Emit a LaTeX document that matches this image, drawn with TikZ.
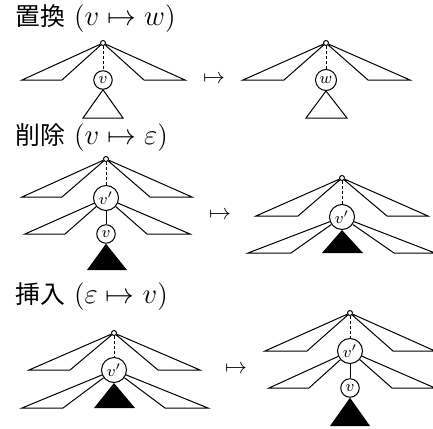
\documentclass[tikz,border=0pt]{standalone}
\usepackage{fontspec}
\newfontfamily\cjk[Scale=0.9]{Noto Sans CJK JP}
\usetikzlibrary{positioning}

\begin{document}
\begin{tikzpicture}[
  x=0.5pt, y=-0.5pt,
  line width=0.5pt,
% 1. Tiny open circle at the top of each context
  root/.style={
    draw,
    circle,
    fill=white,
    inner sep=0pt,
    minimum size=2.5pt
  },
% 2. Labelled vertices
  vtx/.style={
    draw,
    circle,
    fill=white,
    inner sep=0pt,
    minimum size=9.25pt,
    font=\footnotesize
  },
  vtxbig/.style={
    vtx,
    minimum size=12.5pt
  },
% 3. Path to the ancestor
  uplink/.style={
    dash pattern=on 1.5pt off 1pt
  },
% 4. Sibling forests and subtrees
  forest/.style={
    draw,
    line join=miter
  },
  subtree/.style={
    fill=black
  },
  heading/.style={
    anchor=west,
    inner sep=0pt,
    font=\fontsize{13.8}{16}\selectfont
  },
  mapsym/.style={
    inner sep=0pt,
    font=\fontsize{11}{13}\selectfont
  }
]
  \useasboundingbox (0,0) rectangle (433,428);

  % Headings
  \node[heading] (hrep) at (15,19) {{\cjk 置換} ($v \mapsto w$)};
  \node[heading] (hdel) at (15,138) {{\cjk 削除} ($v \mapsto \varepsilon$)};
  \node[heading] (hins) at (15,297) {{\cjk 挿入} ($\varepsilon \mapsto v$)};

  % Arrows between before and after
  \node[mapsym] (mrep) at (214,79) {$\mapsto$};
  \node[mapsym] (mdel) at (220,215) {$\mapsto$};
  \node[mapsym] (mins) at (236,369) {$\mapsto$};

  % Replace: before
  \node[root] (ra) at (103,43) {};
  \node[vtx] (va) at (103,80) {$v$};
  \foreach \xa/\xb in {22/62, 144/185}
    \draw[forest] (ra) -- (\xa,80) -- (\xb,80) -- (ra);
  \draw[uplink] (ra) -- (va);
  \draw[forest] (va.south) -- (83,118) -- (123,118) -- cycle;

  % Replace: after
  \node[root] (rb) at (326,43) {};
  \node[vtx, minimum size=10.5pt] (wb) at (326,80) {$w$};
  \foreach \xa/\xb in {243/284, 368/410}
    \draw[forest] (rb) -- (\xa,80) -- (\xb,80) -- (rb);
  \draw[uplink] (rb) -- (wb);
  \draw[forest] (wb.south) -- (306,118) -- (347,118) -- cycle;

  % Delete: before
  \node[root] (rc) at (106,159) {};
  \node[vtxbig] (pc) at (106,198) {$v'$};
  \node[vtx] (vc) at (106,234) {$v$};
  \foreach \xa/\xb in {22/62, 150/192}
    \draw[forest] (rc) -- (\xa,197) -- (\xb,197) -- (rc);
  \foreach \xa/\xb in {25/65, 147/190}
    \draw[forest] (pc) -- (\xa,234) -- (\xb,234) -- (pc);
  \draw[uplink] (rc) -- (pc);
  \draw (pc) -- (vc);
  \fill[subtree] (vc.south) -- (87,270) -- (127,270) -- cycle;

  % Delete: after
  \node[root] (rd) at (342,178) {};
  \node[vtxbig] (pd) at (342,217) {$v'$};
  \foreach \xa/\xb in {256/298, 387/428}
    \draw[forest] (rd) -- (\xa,216) -- (\xb,216) -- (rd);
  \foreach \xa/\xb in {248/291, 394/435}
    \draw[forest] (pd) -- (\xa,253) -- (\xb,253) -- (pd);
  \draw[uplink] (rd) -- (pd);
  \fill[subtree] (pd.south) -- (322,253) -- (363,253) -- cycle;

  % Insert: before
  \node[root] (re) at (114,333) {};
  \node[vtxbig] (pe) at (114,370) {$v'$};
  \foreach \xa/\xb in {29/70, 158/200}
    \draw[forest] (re) -- (\xa,370) -- (\xb,370) -- (re);
  \foreach \xa/\xb in {22/63, 165/208}
    \draw[forest] (pe) -- (\xa,408) -- (\xb,408) -- (pe);
  \draw[uplink] (re) -- (pe);
  \fill[subtree] (pe.south) -- (94,408) -- (135,408) -- cycle;

  % Insert: after
  \node[root] (rf) at (350,313) {};
  \node[vtxbig] (pf) at (350,351) {$v'$};
  \node[vtx] (vf) at (350,388) {$v$};
  \foreach \xa/\xb in {265/307, 393/435}
    \draw[forest] (rf) -- (\xa,351) -- (\xb,351) -- (rf);
  \foreach \xa/\xb in {269/309, 392/435}
    \draw[forest] (pf) -- (\xa,388) -- (\xb,388) -- (pf);
  \draw[uplink] (rf) -- (pf);
  \draw (pf) -- (vf);
  \fill[subtree] (vf.south) -- (330,426) -- (370,426) -- cycle;

\end{tikzpicture}
\end{document}
